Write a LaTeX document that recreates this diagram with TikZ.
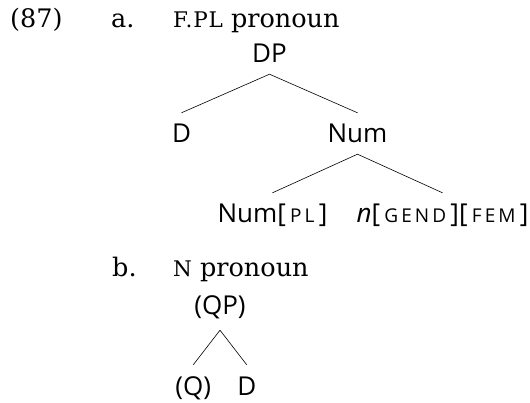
\documentclass[tikz,border=0pt]{standalone}
\usepackage{fontspec}
\setmainfont{DejaVu Serif}
\newfontfamily\exscfont{DejaVu Serif}[LetterSpace=4]
\newfontfamily\catfont{Open Sans}
\newfontfamily\catscfont{Open Sans}[LetterSpace=16]
\usetikzlibrary{trees}

\newcommand{\exsc}[1]{{\exscfont\fontsize{21.5}{21.5}\selectfont #1}}
\newcommand{\catsc}[1]{{\catscfont\fontsize{19}{19}\selectfont #1}}
\newcommand{\feat}[1]{[\,\catsc{#1}\,]}

\begin{document}
\begin{tikzpicture}[x=1pt, y=1pt,
    level distance=80pt, sibling distance=176pt,
    level 2/.style={sibling distance=170pt},
    every node/.style={inner sep=0pt},
    exlabel/.style={anchor=base west, font=\fontsize{25.5}{30}\selectfont},
    cat/.style={font=\catfont\fontsize{26}{31}\selectfont,
      text height=18pt, text depth=6pt},
    edge from parent/.style={draw, line width=0.6pt},
    edge from parent path={([yshift=-5pt]\tikzparentnode.south)
      -- ([yshift=12pt]\tikzchildnode.north)}]
  \useasboundingbox (0,0) rectangle (530,-403);
  % example number and captions
  \node[exlabel] (exnum) at (10,-28) {(87)};
  \node[exlabel] (suba) at (111,-28) {a.};
  \node[exlabel] (capa) at (173,-28) {\exsc{F.PL} pronoun};
  \node[exlabel] (subb) at (112,-277) {b.};
  \node[exlabel] (capb) at (173,-277) {\exsc{N} pronoun};
  % tree (a)
  \node[cat] (dp) at (269.5,-57) {DP}
    child {node[cat] (d) {D}}
    child {node[cat] (num) {Num}
      child {node[cat] (numpl) {Num\feat{PL}}}
      child {node[cat] (nfem) {\textit{n}\feat{GEND}\feat{FEM}}}};
  % tree (b)
  \begin{scope}[sibling distance=53.5pt,
      edge from parent path={([yshift=-9pt]\tikzparentnode.south)
        -- ([yshift=12pt]\tikzchildnode.north)}]
    \node[cat] (qp) at (220,-309) {(QP)}
      child {node[cat] (q) {(Q)}}
      child {node[cat] (db) {D}};
  \end{scope}
\end{tikzpicture}
\end{document}
